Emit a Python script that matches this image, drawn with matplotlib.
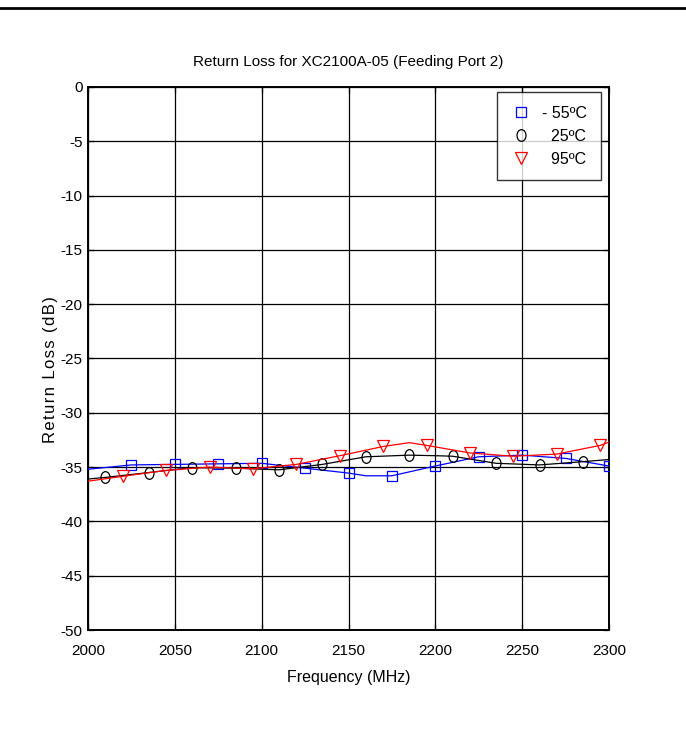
import numpy as np
from matplotlib import pyplot as plt
from matplotlib.lines import Line2D
from matplotlib.path import Path
from matplotlib.transforms import Affine2D
from matplotlib.markers import MarkerStyle

plt.rcParams['font.family'] = ['Liberation Sans', 'DejaVu Sans']
plt.rcParams['axes.unicode_minus'] = False

# -55 C curve
blue_freq = [2000, 2025, 2050, 2075, 2100, 2125, 2150, 2160, 2175, 2200, 2225, 2250, 2275, 2300]
blue_rl = [-35.2, -34.8, -34.75, -34.7, -34.65, -35.1, -35.55, -35.8, -35.8, -34.9, -34.05, -33.9, -34.2, -34.9]
blue_marks = [2025, 2050, 2075, 2100, 2125, 2150, 2175, 2200, 2225, 2250, 2275, 2300]

# 25 C curve
black_freq = [2000, 2010, 2035, 2060, 2085, 2110, 2135, 2160, 2185, 2200, 2210, 2235, 2260, 2285, 2300]
black_rl = [-36.1, -35.95, -35.5, -35.05, -35.1, -35.25, -34.75, -34.05, -33.9, -33.95, -34.0, -34.65, -34.8, -34.5, -34.3]
black_marks = [2010, 2035, 2060, 2085, 2110, 2135, 2160, 2185, 2210, 2235, 2260, 2285]

# 95 C curve
red_freq = [2000, 2020, 2045, 2070, 2095, 2120, 2145, 2170, 2185, 2195, 2220, 2245, 2270, 2295, 2300]
red_rl = [-36.3, -35.85, -35.3, -35.0, -35.15, -34.75, -33.95, -33.1, -32.75, -33.0, -33.7, -34.0, -33.8, -33.0, -32.7]
red_marks = [2020, 2045, 2070, 2095, 2120, 2145, 2170, 2195, 2220, 2245, 2270, 2295]

x_ticks = [2000, 2050, 2100, 2150, 2200, 2250, 2300]
y_ticks = [0, -5, -10, -15, -20, -25, -30, -35, -40, -45, -50]

# the source image is a bit squashed sideways, so circles look like ellipses
ellipse = MarkerStyle(Path.unit_circle().transformed(Affine2D().scale(0.77, 1.0)))

fig = plt.figure(figsize=(6.86, 7.40), dpi=100)
ax = fig.add_axes([88 / 686, 1 - 630 / 740, (609 - 88) / 686, (630 - 87) / 740])

fig.add_artist(Line2D([0, 1], [1 - 8 / 740, 1 - 8 / 740], color='black', lw=2,
                      transform=fig.transFigure))


def mark_idx(freq, marks):
    return [i for i, f in enumerate(freq) if f in marks]


ax.plot(blue_freq, blue_rl, color='blue', lw=0.9, marker='s', ms=7.2, mfc='none',
        mec='blue', mew=0.9, markevery=mark_idx(blue_freq, blue_marks), label='- 55\u00baC', zorder=3)
ax.plot(black_freq, black_rl, color='black', lw=0.9, marker=ellipse, ms=8.4, mfc='none',
        mec='black', mew=0.9, markevery=mark_idx(black_freq, black_marks), label='  25\u00baC', zorder=3)
ax.plot(red_freq, red_rl, color='red', lw=0.9, marker='v', ms=8, mfc='none',
        mec='red', mew=0.9, markevery=mark_idx(red_freq, red_marks), label='  95\u00baC', zorder=3)

ax.set_xlim(2000, 2300)
ax.set_ylim(-50, 0)
ax.set_xticks(x_ticks)
ax.set_yticks(y_ticks)
ax.grid(True, color='black', lw=0.9, ls='-')
ax.set_axisbelow(True)
ax.tick_params(direction='in', length=4, labelsize=11, width=0.9, top=True, right=True)
ax.tick_params(axis='x', pad=10)
ax.tick_params(axis='y', pad=4)
for s in ax.spines.values():
    s.set_linewidth(1.4)

ax.set_title('Return Loss for XC2100A-05 (Feeding Port 2)', fontsize=11, pad=15)
ax.set_xlabel('Frequency (MHz)', fontsize=11.5, labelpad=9)
ax.set_ylabel('\u200a'.join('Return Loss (dB)'), fontsize=12)
ax.yaxis.set_label_coords(-0.058, (630 - 370) / 543)

leg = ax.legend(loc='upper right', bbox_to_anchor=(0.9846, 0.9908), borderaxespad=0,
                fontsize=11.5, frameon=True, fancybox=False, edgecolor='black',
                handlelength=1.3, handletextpad=0.7, labelspacing=0.5, borderpad=0.85)
leg.get_frame().set_linewidth(1.0)
leg.set_zorder(5)
for h in leg.legend_handles:
    h.set_linestyle('none')

fig.savefig('out.png', dpi=100)
